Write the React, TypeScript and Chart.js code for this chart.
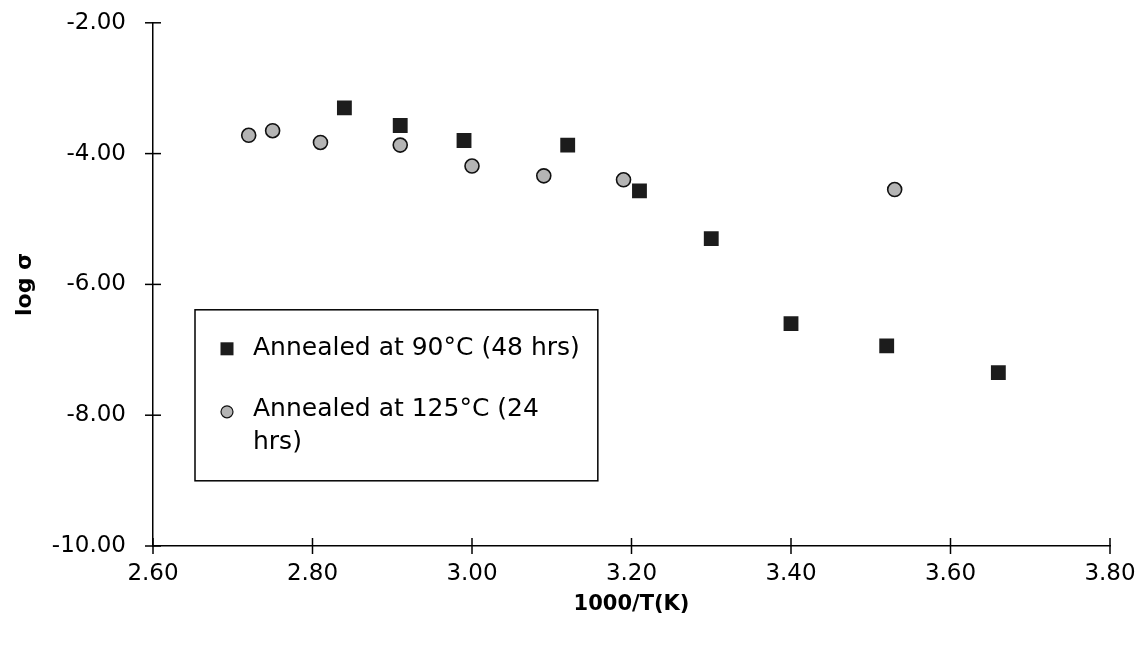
import React, { useEffect, useRef } from 'react';
import { Chart, registerables } from 'chart.js';

Chart.register(...registerables);

// ---- Data ----
const series90Label = 'Annealed at 90°C (48 hrs)';
const series90X = [2.84, 2.91, 2.99, 3.12, 3.21, 3.30, 3.40, 3.52, 3.66];
const series90Y = [-3.30, -3.57, -3.80, -3.87, -4.57, -5.30, -6.60, -6.94, -7.35];

const series125Label = 'Annealed at 125°C (24 hrs)';
const series125X = [2.72, 2.75, 2.81, 2.91, 3.00, 3.09, 3.19, 3.53];
const series125Y = [-3.72, -3.65, -3.83, -3.87, -4.19, -4.34, -4.40, -4.55];

const xMin = 2.6;
const xMax = 3.8;
const xStep = 0.2;
const yMin = -10;
const yMax = -2;
const yStep = 2;
const xTitle = '1000/T(K)';
const yTitle = 'log σ';

const FONT = "'DejaVu Sans', 'Liberation Sans', sans-serif";

// tick marks that cross the axis lines (half outside, half inside)
const crossTicks = {
  id: 'crossTicks',
  afterDatasetsDraw(chart: any) {
    const { ctx } = chart;
    const xs = chart.scales.x;
    const ys = chart.scales.y;
    ctx.save();
    ctx.strokeStyle = '#000';
    ctx.lineWidth = 1.5;
    xs.ticks.forEach((t: any) => {
      const px = xs.getPixelForValue(t.value);
      ctx.beginPath();
      ctx.moveTo(px, xs.top - 8);
      ctx.lineTo(px, xs.top + 8);
      ctx.stroke();
    });
    ys.ticks.forEach((t: any) => {
      const py = ys.getPixelForValue(t.value);
      ctx.beginPath();
      ctx.moveTo(ys.right - 8, py);
      ctx.lineTo(ys.right + 8, py);
      ctx.stroke();
    });
    ctx.restore();
  },
};

const boxLegend = {
  id: 'boxLegend',
  afterDraw(chart: any) {
    const { ctx, chartArea } = chart;
    const datasets = chart.data.datasets;
    ctx.save();
    ctx.font = `25px ${FONT}`;
    const firstW = ctx.measureText(datasets[0].label).width;
    const maxW = firstW + 4;
    const wrap = (text: string) => {
      const words = text.split(' ');
      const lines: string[] = [];
      let cur = '';
      words.forEach((w) => {
        const test = cur ? cur + ' ' + w : w;
        if (ctx.measureText(test).width > maxW && cur) {
          lines.push(cur);
          cur = w;
        } else cur = test;
      });
      if (cur) lines.push(cur);
      return lines;
    };
    const left = chartArea.left + 42;
    const top = chartArea.top + 287;
    const width = 58 + maxW + 14;
    const height = 171;
    ctx.fillStyle = '#fff';
    ctx.fillRect(left, top, width, height);
    ctx.strokeStyle = '#000';
    ctx.lineWidth = 1.5;
    ctx.strokeRect(left, top, width, height);
    const lineH = 33;
    let y = top + 39;
    datasets.forEach((ds: any) => {
      const lines = wrap(ds.label);
      const mx = left + 32;
      if (ds.pointStyle === 'rect') {
        ctx.fillStyle = ds.backgroundColor;
        ctx.fillRect(mx - 6.5, y - 6.5, 13, 13);
      } else {
        ctx.beginPath();
        ctx.arc(mx, y + 2, 6, 0, Math.PI * 2);
        ctx.fillStyle = ds.backgroundColor;
        ctx.fill();
        ctx.lineWidth = 1.2;
        ctx.strokeStyle = ds.borderColor;
        ctx.stroke();
      }
      ctx.fillStyle = '#000';
      ctx.textBaseline = 'middle';
      ctx.textAlign = 'left';
      lines.forEach((ln, j) => {
        ctx.fillText(ln, left + 58, y + j * lineH);
      });
      y += 61 + (lines.length - 1) * lineH;
    });
    ctx.restore();
  },
};

export default function App() {
  const ref = useRef<HTMLCanvasElement>(null);

  useEffect(() => {
    if (!ref.current) return;
    const chart = new Chart(ref.current, {
      type: 'scatter',
      data: {
        datasets: [
          {
            label: series90Label,
            data: series90X.map((x, i) => ({ x, y: series90Y[i] })),
            pointStyle: 'rect',
            pointRadius: 10.5,
            backgroundColor: '#1c1c1c',
            borderColor: '#1c1c1c',
            borderWidth: 0,
          },
          {
            label: series125Label,
            data: series125X.map((x, i) => ({ x, y: series125Y[i] })),
            pointStyle: 'circle',
            pointRadius: 7,
            backgroundColor: '#b4b4b4',
            borderColor: '#111',
            borderWidth: 1.6,
          },
        ],
      },
      options: {
        animation: false,
        responsive: false,
        layout: { padding: { left: 0, right: 34, top: 0, bottom: 0 } },
        plugins: {
          legend: { display: false },
          tooltip: { enabled: false },
        },
        scales: {
          x: {
            type: 'linear',
            min: xMin,
            max: xMax,
            afterFit: (s: any) => {
              s.height = 100;
            },
            ticks: {
              stepSize: xStep,
              color: '#000',
              padding: 6,
              font: { family: FONT, size: 23 },
              callback: (v: any) => Number(v).toFixed(2),
            },
            grid: { drawOnChartArea: false, drawTicks: true, tickLength: 8, tickColor: 'rgba(0,0,0,0)', color: '#000' },
            border: { display: true, color: '#000', width: 1.5 },
            title: {
              display: true,
              text: xTitle,
              color: '#000',
              font: { family: FONT, size: 21, weight: 'bold' },
              padding: { top: 0, bottom: 29 },
            },
          },
          y: {
            type: 'linear',
            min: yMin,
            max: yMax,
            afterFit: (s: any) => {
              s.width = 153;
            },
            ticks: {
              stepSize: yStep,
              color: '#000',
              padding: 9,
              font: { family: FONT, size: 23 },
              callback: (v: any) => Number(v).toFixed(2),
            },
            grid: { drawOnChartArea: false, drawTicks: true, tickLength: 18, tickColor: 'rgba(0,0,0,0)', color: '#000' },
            border: { display: true, color: '#000', width: 1.5 },
            title: {
              display: true,
              text: yTitle,
              color: '#000',
              font: { family: FONT, size: 22, weight: 'bold' },
              padding: { top: 12, bottom: 0 },
            },
          },
        },
      },
      plugins: [crossTicks, boxLegend],
    });
    return () => chart.destroy();
  }, []);

  return (
    <div style={{ position: 'absolute', left: 0, top: 0, width: 1144, height: 646, background: '#fff' }}>
      <canvas ref={ref} width={1144} height={646} style={{ display: 'block' }} />
    </div>
  );
}
